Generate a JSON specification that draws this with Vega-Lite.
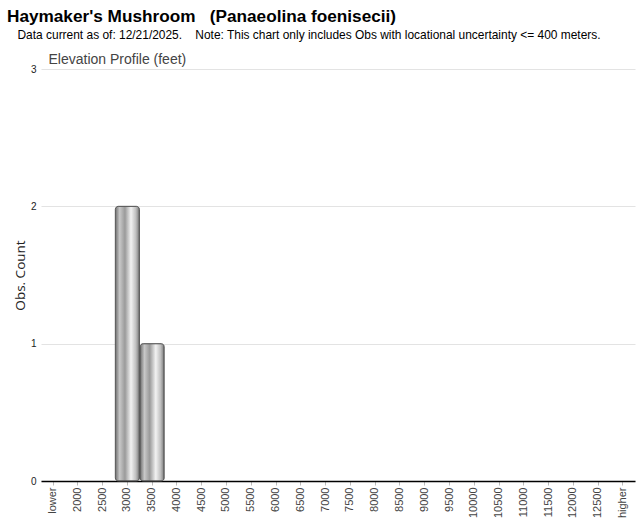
{
  "$schema": "https://vega.github.io/schema/vega-lite/v6.json",
  "width": 594,
  "height": 412,
  "autosize": {"type": "none"},
  "padding": {"left": 41, "top": 69, "right": 5, "bottom": 42},
  "background": "white",
  "view": {"stroke": null},
  "title": {
    "text": "Haymaker's Mushroom\u00a0\u00a0\u00a0(Panaeolina foenisecii)",
    "anchor": "start",
    "frame": "group",
    "dx": -34,
    "font": "Liberation Sans",
    "fontSize": 17.2,
    "fontWeight": "bold",
    "color": "black",
    "offset": 3
  },
  "data": {
    "values": [
      {"elevation": "lower", "count": 0},
      {"elevation": "2000", "count": 0},
      {"elevation": "2500", "count": 0},
      {"elevation": "3000", "count": 2},
      {"elevation": "3500", "count": 1},
      {"elevation": "4000", "count": 0},
      {"elevation": "4500", "count": 0},
      {"elevation": "5000", "count": 0},
      {"elevation": "5500", "count": 0},
      {"elevation": "6000", "count": 0},
      {"elevation": "6500", "count": 0},
      {"elevation": "7000", "count": 0},
      {"elevation": "7500", "count": 0},
      {"elevation": "8000", "count": 0},
      {"elevation": "8500", "count": 0},
      {"elevation": "9000", "count": 0},
      {"elevation": "9500", "count": 0},
      {"elevation": "10000", "count": 0},
      {"elevation": "10500", "count": 0},
      {"elevation": "11000", "count": 0},
      {"elevation": "11500", "count": 0},
      {"elevation": "12000", "count": 0},
      {"elevation": "12500", "count": 0},
      {"elevation": "higher", "count": 0}
    ]
  },
  "layer": [
    {
      "transform": [{"filter": "datum.count > 0"}],
      "mark": {
        "type": "bar",
        "color": {
          "gradient": "linear",
          "x1": 0, "y1": 0, "x2": 1, "y2": 0,
          "stops": [
            {"offset": 0, "color": "#6e6e6e"},
            {"offset": 0.18, "color": "#c8c8c8"},
            {"offset": 0.4, "color": "#9a9a9a"},
            {"offset": 0.65, "color": "#f2f2f2"},
            {"offset": 0.85, "color": "#c0c0c0"},
            {"offset": 1, "color": "#7a7a7a"}
          ]
        },
        "stroke": "#555555",
        "strokeWidth": 1,
        "cornerRadius": 3
      },
      "encoding": {
        "x": {
          "field": "elevation",
          "type": "ordinal",
          "sort": null,
          "scale": {
            "domain": ["lower", "2000", "2500", "3000", "3500", "4000", "4500", "5000", "5500", "6000", "6500", "7000", "7500", "8000", "8500", "9000", "9500", "10000", "10500", "11000", "11500", "12000", "12500", "higher"],
            "paddingInner": 0.03,
            "paddingOuter": 0
          },
          "axis": {
            "title": null,
            "labelAngle": -90,
            "labelFont": "Liberation Sans",
            "labelFontSize": 11,
            "labelColor": "#444444",
            "labelPadding": 2,
            "domainColor": "black",
            "domainWidth": 1.5,
            "tickColor": "#bbbbbb",
            "tickSize": 4,
            "grid": false
          }
        },
        "y": {
          "field": "count",
          "type": "quantitative",
          "scale": {"domain": [0, 3]},
          "axis": {
            "title": "Obs. Count",
            "values": [0, 1, 2, 3],
            "format": "d",
            "domain": false,
            "ticks": false,
            "labelPadding": 5,
            "labelFont": "Liberation Sans",
            "labelFontSize": 10,
            "labelColor": "#222222",
            "titleFont": "Open Sans",
            "titleFontSize": 13.5,
            "titleFontWeight": "normal",
            "titleColor": "#222222",
            "titlePadding": 3,
            "gridColor": "#e3e3e3"
          }
        }
      }
    },
    {
      "mark": {"type": "tick", "opacity": 0},
      "encoding": {
        "x": {
          "field": "elevation",
          "type": "ordinal",
          "sort": null,
          "axis": {
            "orient": "top",
            "labels": false,
            "ticks": false,
            "domain": false,
            "grid": false,
            "title": "Elevation Profile (feet)",
            "titleAnchor": "start",
            "titleAlign": "left",
            "titleX": 7,
            "titleY": -6,
            "titleBaseline": "alphabetic",
            "titleFont": "Liberation Sans",
            "titleFontSize": 14,
            "titleFontWeight": "normal",
            "titleColor": "#444444"
          }
        }
      }
    },
    {
      "mark": {"type": "tick", "opacity": 0},
      "encoding": {
        "x": {
          "field": "elevation",
          "type": "ordinal",
          "sort": null,
          "axis": {
            "orient": "top",
            "labels": false,
            "ticks": false,
            "domain": false,
            "grid": false,
            "title": "Data current as of: 12/21/2025.\u00a0\u00a0\u00a0 Note: This chart only includes Obs with locational uncertainty <= 400 meters.",
            "titleAnchor": "start",
            "titleAlign": "left",
            "titleX": -24,
            "titleY": -31,
            "titleBaseline": "alphabetic",
            "titleFont": "Liberation Sans",
            "titleFontSize": 11.95,
            "titleFontWeight": "normal",
            "titleColor": "black"
          }
        }
      }
    }
  ],
  "resolve": {"axis": {"x": "independent"}}
}
